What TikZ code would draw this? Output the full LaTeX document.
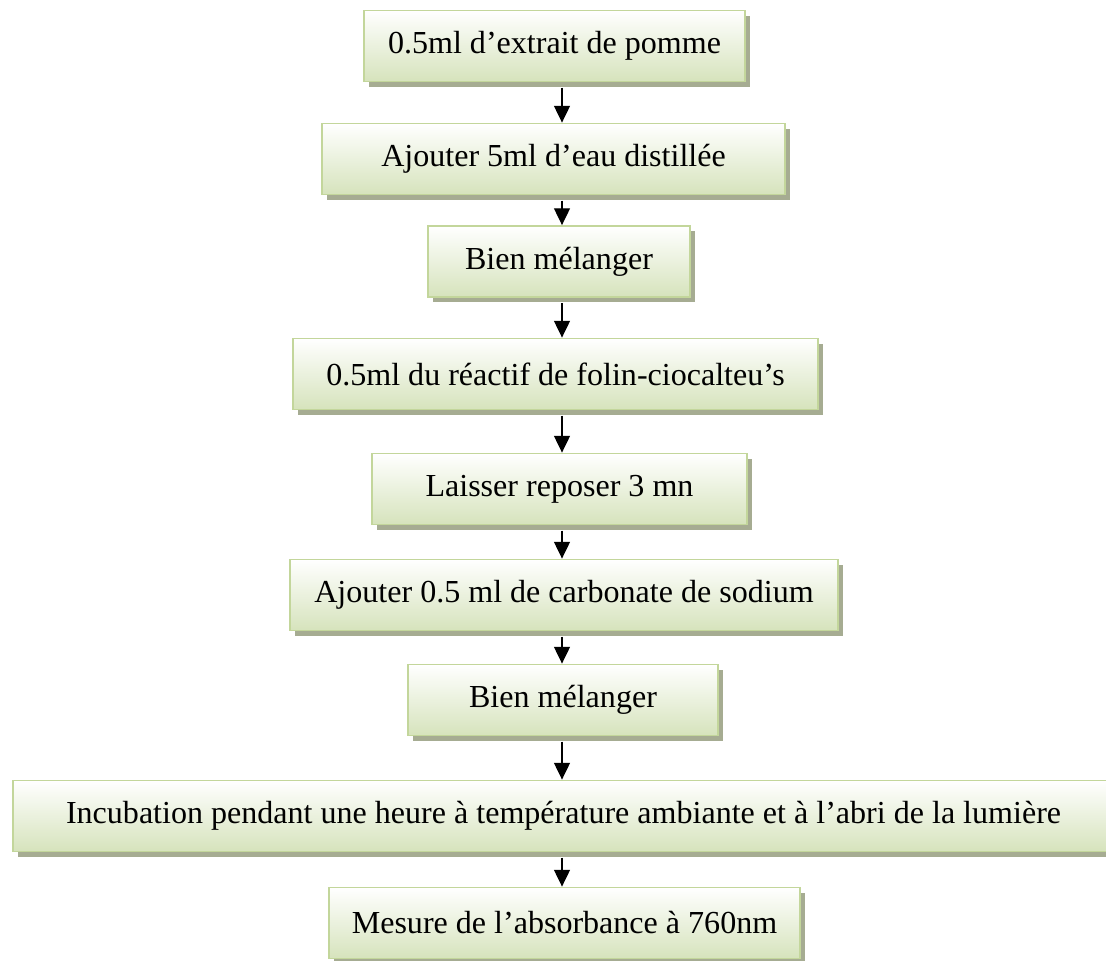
\documentclass[tikz,border=0pt]{standalone}
\usepackage{fontspec}
\setmainfont{Liberation Serif}
\usetikzlibrary{arrows.meta,shadows}
\definecolor{boxline}{RGB}{195,214,155}
\definecolor{boxgreen}{RGB}{214,227,188}
\definecolor{boxshadow}{RGB}{166,172,146}
\begin{document}
\begin{tikzpicture}[
  stepbox/.style={draw=boxline,line width=1.3pt,top color=white,bottom color=boxgreen,
    minimum height=1.775cm,inner sep=0pt,font=\fontsize{22.8}{27}\selectfont,
    drop shadow={shadow xshift=0.13cm,shadow yshift=-0.13cm,fill=boxshadow,opacity=1}},
  flow/.style={line width=1pt,-{Triangle[width=0.4cm,length=0.42cm]},shorten <=0.13cm}]
\useasboundingbox (0,0) rectangle (27.65,-24.025);
\coordinate (ax) at (14.05,0);
\node[stepbox,minimum width=9.525cm] (b1) at (13.8625,-1.15){0.5ml d’extrait de pomme};
\node[stepbox,minimum width=11.575cm] (b2) at (13.8375,-3.975){Ajouter 5ml d’eau distillée};
\node[stepbox,minimum width=6.55cm] (b3) at (13.975,-6.5375){Bien mélanger};
\node[stepbox,minimum width=13.125cm] (b4) at (13.8875,-9.35){0.5ml du réactif de folin-ciocalteu’s};
\node[stepbox,minimum width=9.375cm] (b5) at (13.9875,-12.225){Laisser reposer 3 mn};
\node[stepbox,minimum width=13.7cm] (b6) at (14.1,-14.875){Ajouter 0.5 ml de carbonate de sodium};
\node[stepbox,minimum width=7.75cm] (b7) at (14.075,-17.5){Bien mélanger};
\node[stepbox,minimum width=27.525cm] (b8) at (14.0875,-20.4){Incubation pendant une heure à température ambiante et à l’abri de la lumière};
\node[stepbox,minimum width=11.775cm] (b9) at (14.1125,-23.075){Mesure de l’absorbance à 760nm};
\draw[flow] (b1.south -| ax) -- (b2.north -| ax);
\draw[flow] (b2.south -| ax) -- (b3.north -| ax);
\draw[flow] (b3.south -| ax) -- (b4.north -| ax);
\draw[flow] (b4.south -| ax) -- (b5.north -| ax);
\draw[flow] (b5.south -| ax) -- (b6.north -| ax);
\draw[flow] (b6.south -| ax) -- (b7.north -| ax);
\draw[flow] (b7.south -| ax) -- (b8.north -| ax);
\draw[flow] (b8.south -| ax) -- (b9.north -| ax);
\end{tikzpicture}
\end{document}
